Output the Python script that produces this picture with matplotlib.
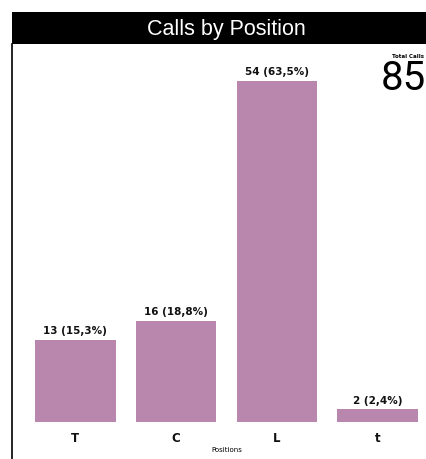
import matplotlib.pyplot as plt
from matplotlib.patches import Rectangle
from matplotlib.lines import Line2D

positions = ['T', 'C', 'L', 't']
calls = [13, 16, 54, 2]
total = sum(calls)

W, H = 427, 459
fig = plt.figure(figsize=(W / 100, H / 100), dpi=100)

# title bar and left frame line
fig.patches.append(Rectangle((12 / W, 1 - 44 / H), 1, 32 / H, transform=fig.transFigure,
                             facecolor='black', edgecolor='none'))
fig.lines.append(Line2D([12.5 / W, 12.5 / W], [0, 1 - 44 / H], transform=fig.transFigure,
                        color='black', lw=1.2))
fig.text(226 / W, 1 - 29 / H, 'Calls by Position', color='white', fontsize=15.5,
         family='Liberation Sans', ha='center', va='center')

ax = fig.add_axes([25 / W, 1 - 422 / H, 403 / W, 362 / H])
x = range(len(positions))
bars = ax.bar(x, calls, width=0.8, color='#b987ae')
ax.set_xlim(-0.5, 3.5)
ax.set_ylim(0, 362 / (341 / 54))
for b, v in zip(bars, calls):
    ax.text(b.get_x() + b.get_width() / 2, v + 0.6, f'{v} ({v / total * 100:.1f}%)'.replace('.', ','),
            ha='center', va='bottom', fontsize=7.5, fontweight='semibold', color='#111111')
ax.set_xticks(list(x))
ax.set_xticklabels(positions, fontsize=8.5, fontweight='bold', color='#111111')
ax.tick_params(axis='x', length=0, pad=7)
ax.set_yticks([])
for s in ax.spines.values():
    s.set_visible(False)
ax.set_xlabel('Positions', fontsize=5, labelpad=2)

fig.text(408 / W, 1 - 57 / H, 'Total Calls', fontsize=4, fontweight='bold', ha='center', va='center')
fig.text(426 / W, 1 - 79 / H, str(total), fontsize=29, family='Roboto', fontweight='normal',
         ha='right', va='center')

fig.savefig('out.png', dpi=100)
